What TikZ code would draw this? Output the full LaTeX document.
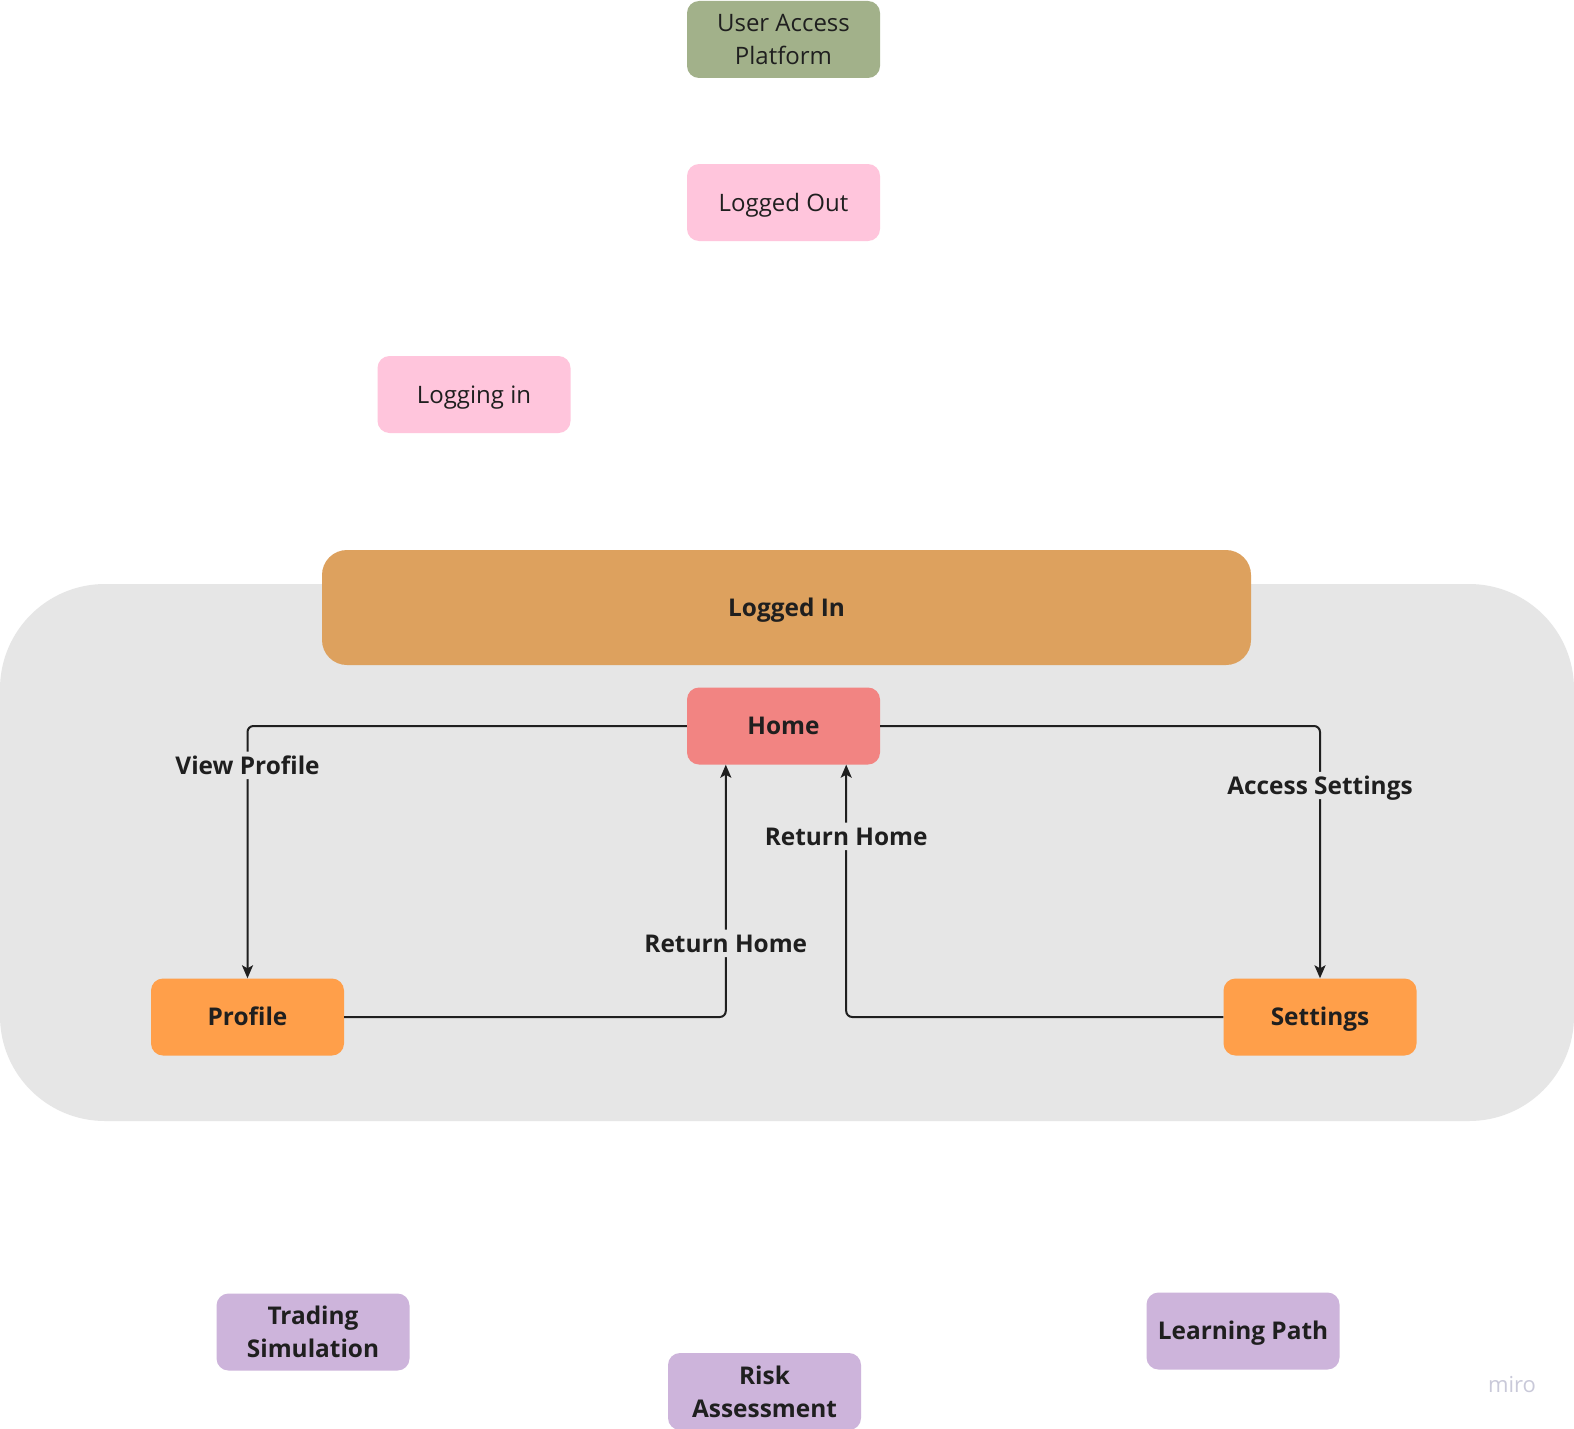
\documentclass[tikz,border=0pt]{standalone}
\usepackage{fontspec}
\setmainfont{Open Sans}
\usetikzlibrary{arrows.meta}

\definecolor{txt}{HTML}{1F1F1F}
\definecolor{zone}{HTML}{E6E6E6}
\definecolor{sage}{HTML}{A2B18A}
\definecolor{blush}{HTML}{FFC5DC}
\definecolor{amber}{HTML}{DDA15E}
\definecolor{coral}{HTML}{F28482}
\definecolor{tangerine}{HTML}{FF9F4A}
\definecolor{lilac}{HTML}{CDB4DB}
\definecolor{wmark}{HTML}{C9C9D9}

\tikzset{
  box/.style={rounded corners=12pt, minimum width=193pt, minimum height=77pt,
    inner sep=0pt, align=center, text=txt,
    font=\fontsize{24}{33}\selectfont},
  boldbox/.style={box, font=\fontsize{24.4}{33}\selectfont\bfseries},
  oneline/.style={text height=17.4pt, text depth=0pt},
  link/.style={draw=txt, line width=2pt, rounded corners=6pt},
  arrowlink/.style={link, -{Stealth[length=13pt,width=11pt,inset=3pt]}},
  tag/.style={fill=zone, inner xsep=3pt, inner ysep=5pt, text=txt,
    text height=17.4pt, text depth=0pt,
    font=\fontsize{24.4}{28}\selectfont\bfseries}
}

\begin{document}
\begin{tikzpicture}[x=1pt,y=-1pt]
  \useasboundingbox (0,0) rectangle (1574,1429);
  \fill[white] (0,0) rectangle (1574,1429);

  % shaded region for the logged-in state
  \fill[zone, rounded corners=105pt] (0,584) rectangle (1574,1121);

  % states
  \node[box, fill=sage]           (platform) at (783.5,39.5) {User Access\\Platform};
  \node[box, oneline, fill=blush] (out)      at (783.5,202.5) {Logged Out};
  \node[box, oneline, fill=blush] (login)    at (474,394.5) {Logging in};
  \node[boldbox, oneline, fill=amber, rounded corners=25pt,
        minimum width=929pt, minimum height=115pt] (in) at (786.5,607.5) {Logged In};
  \node[boldbox, oneline, fill=coral]     (home)     at (783.5,726) {Home};
  \node[boldbox, oneline, fill=tangerine] (profile)  at (247.5,1017) {Profile};
  \node[boldbox, oneline, fill=tangerine] (settings) at (1320,1017) {Settings};

  % features
  \node[boldbox, fill=lilac]          (trading)  at (313,1332) {Trading\\Simulation};
  \node[boldbox, fill=lilac]          (risk)     at (764.5,1391.5) {Risk\\Assessment};
  \node[boldbox, oneline, fill=lilac] (learning) at (1243,1331) {Learning Path};

  % navigation between pages
  \draw[arrowlink] (home.west) -| node[tag, pos=0.578] {View Profile} (profile.north);
  \draw[arrowlink] (profile.east) -| node[tag, pos=0.646] {Return Home}
        ([xshift=39pt]home.south west);
  \draw[arrowlink] (settings.west) -| node[tag, pos=0.858] {Return Home}
        ([xshift=-34pt]home.south east);
  \draw[arrowlink] (home.east) -| node[tag, pos=0.618] {Access Settings} (settings.north);

  % watermark
  \node[text=wmark, font=\fontsize{22}{26}\selectfont] (mark) at (1512,1385) {miro};
\end{tikzpicture}
\end{document}
